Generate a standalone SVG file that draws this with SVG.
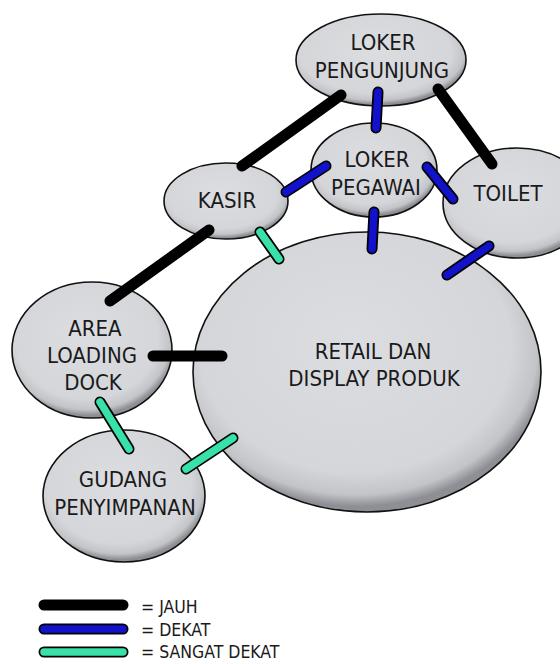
<svg xmlns="http://www.w3.org/2000/svg" width="560" height="664" viewBox="0 0 560 664">
<defs>
<radialGradient id="g" cx="0.47" cy="0.42" r="0.56" fx="0.45" fy="0.38">
<stop offset="0" stop-color="#dcdde1"/>
<stop offset="0.8" stop-color="#d5d6da"/>
<stop offset="0.93" stop-color="#c3c4c8"/>
<stop offset="1" stop-color="#8e8f94"/>
</radialGradient>
<style>
.node ellipse{fill:url(#g);stroke:#111;stroke-width:1.6}
.node text,.legend text{font-family:"DejaVu Sans Condensed","DejaVu Sans",sans-serif;font-stretch:condensed;font-size:22px;fill:#1a1a1a;text-anchor:middle}
.legend text{font-size:17.5px;text-anchor:start}
.o{stroke:#000;stroke-width:11;stroke-linecap:round;fill:none}
.jauh{stroke:#000;stroke-width:8;stroke-linecap:round}
.dekat{stroke:#1212cc;stroke-width:7.5;stroke-linecap:round}
.sangat{stroke:#38e0aa;stroke-width:7.5;stroke-linecap:round}
</style>
</defs>
<rect width="560" height="664" fill="#ffffff"/>
<g id="retail" class="node"><ellipse cx="367" cy="372" rx="174" ry="140"/><text x="373" y="359">RETAIL DAN</text><text x="374" y="386">DISPLAY PRODUK</text></g>
<g id="loker-pengunjung" class="node"><ellipse cx="381" cy="60" rx="85" ry="46"/><text x="383" y="50">LOKER</text><text x="382" y="78">PENGUNJUNG</text></g>
<g id="loker-pegawai" class="node"><ellipse cx="374" cy="170" rx="63" ry="47"/><text x="377" y="167">LOKER</text><text x="376" y="195">PEGAWAI</text></g>
<g id="kasir" class="node"><ellipse cx="226" cy="201" rx="62" ry="38"/><text x="227" y="208">KASIR</text></g>
<g id="toilet" class="node"><ellipse cx="517" cy="203" rx="74" ry="55"/><text x="508" y="201">TOILET</text></g>
<g id="area-loading-dock" class="node"><ellipse cx="92" cy="350" rx="80" ry="68"/><text x="95" y="336">AREA</text><text x="92" y="363">LOADING</text><text x="93" y="390">DOCK</text></g>
<g id="gudang" class="node"><ellipse cx="124" cy="496" rx="81" ry="66"/><text x="123" y="487">GUDANG</text><text x="125" y="515">PENYIMPANAN</text></g>
<g id="connectors">
<line class="o" x1="341" y1="95" x2="242" y2="166"/><line class="jauh" x1="341" y1="95" x2="242" y2="166"/>
<line class="o" x1="438" y1="89" x2="492" y2="164"/><line class="jauh" x1="438" y1="89" x2="492" y2="164"/>
<line class="o" x1="209" y1="230" x2="110" y2="301"/><line class="jauh" x1="209" y1="230" x2="110" y2="301"/>
<line class="o" x1="153" y1="356" x2="222" y2="356"/><line class="jauh" x1="153" y1="356" x2="222" y2="356"/>
<line class="o" x1="378" y1="92" x2="376" y2="128"/><line class="dekat" x1="378" y1="92" x2="376" y2="128"/>
<line class="o" x1="286" y1="192" x2="326" y2="166"/><line class="dekat" x1="286" y1="192" x2="326" y2="166"/>
<line class="o" x1="427" y1="167" x2="453" y2="199"/><line class="dekat" x1="427" y1="167" x2="453" y2="199"/>
<line class="o" x1="374" y1="212" x2="372" y2="249"/><line class="dekat" x1="374" y1="212" x2="372" y2="249"/>
<line class="o" x1="489" y1="246" x2="447" y2="275"/><line class="dekat" x1="489" y1="246" x2="447" y2="275"/>
<line class="o" x1="260" y1="232" x2="279" y2="259"/><line class="sangat" x1="260" y1="232" x2="279" y2="259"/>
<line class="o" x1="100" y1="402" x2="129" y2="449"/><line class="sangat" x1="100" y1="402" x2="129" y2="449"/>
<line class="o" x1="186" y1="469" x2="233" y2="438"/><line class="sangat" x1="186" y1="469" x2="233" y2="438"/>
</g>
<g id="legend" class="legend">
<line class="o" x1="44" y1="605" x2="123" y2="605"/><line class="jauh" x1="44" y1="605" x2="123" y2="605"/>
<line class="o" x1="44" y1="629" x2="123" y2="629"/><line class="dekat" x1="44" y1="629" x2="123" y2="629"/>
<line class="o" x1="44" y1="652" x2="123" y2="652"/><line class="sangat" x1="44" y1="652" x2="123" y2="652"/>
<text x="141" y="613">= JAUH</text>
<text x="141" y="636">= DEKAT</text>
<text x="141" y="658">= SANGAT DEKAT</text>
</g>
</svg>
